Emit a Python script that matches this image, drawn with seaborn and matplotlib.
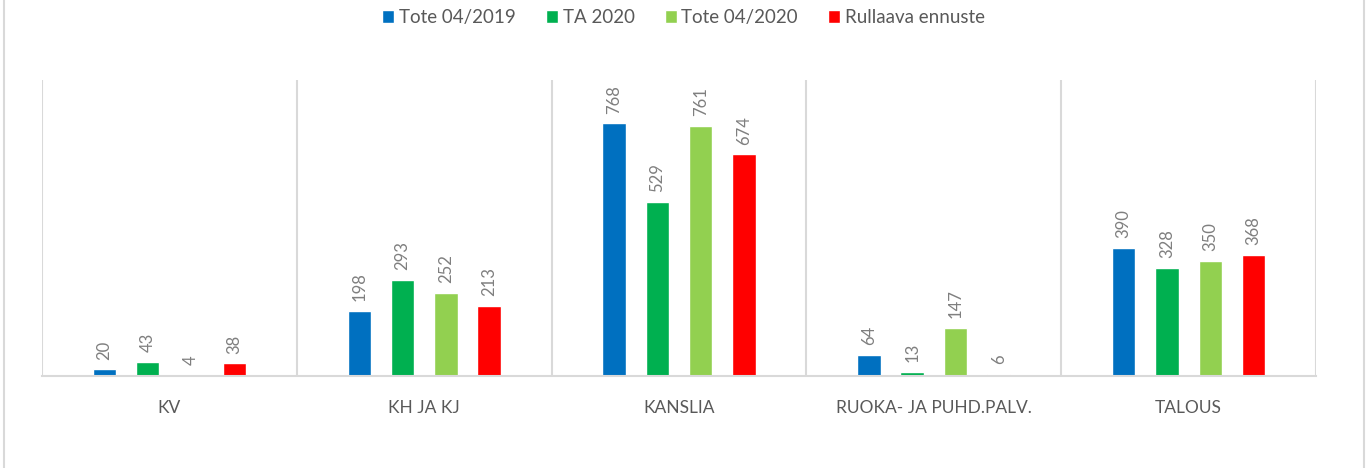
import numpy as np
import pandas as pd
import matplotlib
matplotlib.use('Agg')
import matplotlib.pyplot as plt
import seaborn as sns
from matplotlib.patches import Rectangle


# Categories and series values
categories = ['KV', 'KH JA KJ', 'KANSLIA', 'RUOKA- JA PUHD.PALV.', 'TALOUS']
series = ['Tote 04/2019', 'TA 2020', 'Tote 04/2020', 'Rullaava ennuste']
tote_2019 = [20, 198, 768, 64, 390]
ta_2020 = [43, 293, 529, 13, 328]
tote_2020 = [4, 252, 761, 147, 350]
ennuste = [38, 213, 674, 6, 368]

colors = ['#0070C0', '#00B050', '#92D050', '#FF0000']


def build_frame():

	values = [tote_2019, ta_2020, tote_2020, ennuste]
	rows = []
	for name, vals in zip(series, values):
		for cat, v in zip(categories, vals):
			rows.append({'category': cat, 'series': name, 'value': v})
	return pd.DataFrame(rows)


def main():

	df = build_frame()

	sns.set_style('white')
	plt.rcParams['font.family'] = ['Lato', 'DejaVu Sans']

	fig = plt.figure(figsize = (13.67, 4.68), dpi = 100)
	ax = fig.add_axes([0.0307, 0.1966, 0.932, 0.6324])

	sns.barplot(data = df, x = 'category', y = 'value', hue = 'series',
		    order = categories, hue_order = series, palette = colors,
		    saturation = 1, width = 0.68, gap = 0.46, ax = ax, legend = True)

	# Rotated value labels above bars
	for cont in ax.containers:
		ax.bar_label(cont, rotation = 90, padding = 7, fontsize = 12, color = '#7f7f7f')

	ax.set_ylim(0, 900)
	ax.set_xlim(-0.5, len(categories) - 0.5)
	ax.set_yticks([])
	ax.set_xlabel('')
	ax.set_ylabel('')
	for s in ['top', 'right', 'left']:
		ax.spines[s].set_visible(False)
	ax.spines['bottom'].set_color('#d9d9d9')
	ax.spines['bottom'].set_linewidth(1.5)

	# Vertical separators between categories
	for x in np.arange(-0.5, len(categories), 1.0):
		ax.axvline(x, color = '#d9d9d9', linewidth = 1.5, zorder = 0)

	ax.tick_params(axis = 'x', length = 0, pad = 17, labelsize = 12.5, labelcolor = '#595959')

	# Legend on top
	handles, labels = ax.get_legend_handles_labels()
	ax.get_legend().remove()
	fig.legend(handles, labels, loc = 'center', bbox_to_anchor = (0.5, 0.962), ncol = 4,
		   frameon = False, fontsize = 13.5, handlelength = 0.65, handleheight = 0.65,
		   handletextpad = 0.25, columnspacing = 1.6, labelcolor = '#595959')

	# Outer chart border
	fig.add_artist(Rectangle((4 / 1367, -0.01), 1360 / 1367, 1.02, transform = fig.transFigure,
				 fill = False, edgecolor = '#d9d9d9', linewidth = 1.5))

	fig.savefig('out.png', dpi = 100)


if __name__ == "__main__":
	main()
